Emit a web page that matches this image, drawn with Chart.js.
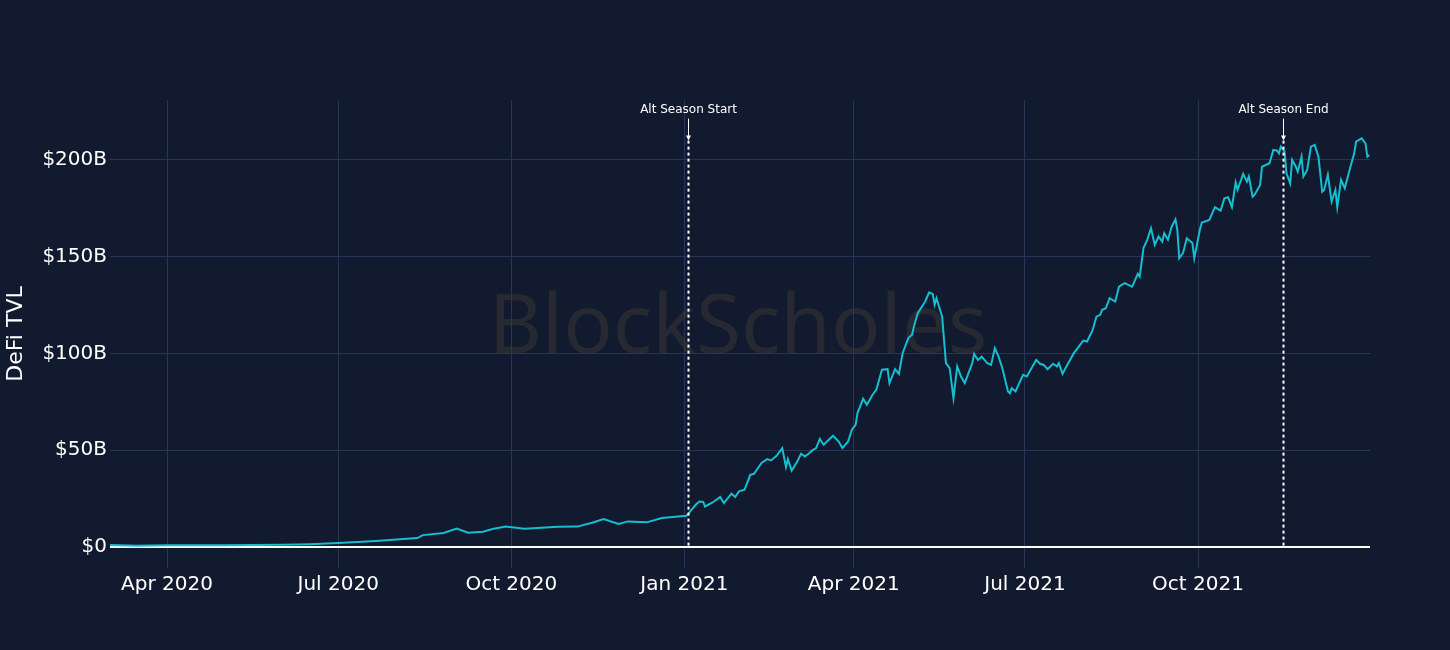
<!DOCTYPE html>
<html>
<head>
<meta charset="utf-8">
<script src="https://cdn.jsdelivr.net/npm/chart.js@4.4.1/dist/chart.umd.min.js"></script>
<style>
  html, body { margin: 0; padding: 0; background: #111a2e; }
  #wrap { width: 1450px; height: 650px; position: relative; }
</style>
</head>
<body>
<div id="wrap"><canvas id="tvl"></canvas></div>
<script>
// DeFi TVL, $B
let dates = [
    '2020-03-01','2020-03-16','2020-04-01','2020-05-01','2020-06-01','2020-06-16','2020-07-01','2020-07-21','2020-08-12','2020-08-15',
    '2020-08-26','2020-09-02','2020-09-08','2020-09-16','2020-09-21','2020-09-28','2020-10-08','2020-10-26','2020-11-05','2020-11-13',
    '2020-11-19','2020-11-27','2020-12-02','2020-12-12','2020-12-20','2021-01-02','2021-01-03','2021-01-07','2021-01-09','2021-01-11',
    '2021-01-12','2021-01-16','2021-01-20','2021-01-22','2021-01-26','2021-01-28','2021-01-30','2021-02-02','2021-02-05','2021-02-07',
    '2021-02-11','2021-02-14','2021-02-16','2021-02-19','2021-02-22','2021-02-24','2021-02-25','2021-02-27','2021-03-02','2021-03-04',
    '2021-03-06','2021-03-08','2021-03-10','2021-03-12','2021-03-14','2021-03-16','2021-03-21','2021-03-24','2021-03-26','2021-03-29',
    '2021-03-31','2021-04-02','2021-04-03','2021-04-06','2021-04-08','2021-04-11','2021-04-13','2021-04-16','2021-04-19','2021-04-20',
    '2021-04-23','2021-04-25','2021-04-27','2021-04-30','2021-05-02','2021-05-03','2021-05-05','2021-05-09','2021-05-11','2021-05-13',
    '2021-05-14','2021-05-15','2021-05-18','2021-05-20','2021-05-22','2021-05-24','2021-05-26','2021-05-28','2021-05-30','2021-06-03',
    '2021-06-04','2021-06-06','2021-06-08','2021-06-11','2021-06-13','2021-06-15','2021-06-17','2021-06-19','2021-06-22','2021-06-23',
    '2021-06-24','2021-06-26','2021-06-30','2021-07-02','2021-07-05','2021-07-07','2021-07-09','2021-07-11','2021-07-13','2021-07-16',
    '2021-07-18','2021-07-19','2021-07-21','2021-07-24','2021-07-27','2021-08-01','2021-08-03','2021-08-06','2021-08-08','2021-08-10',
    '2021-08-11','2021-08-13','2021-08-15','2021-08-18','2021-08-20','2021-08-23','2021-08-25','2021-08-27','2021-08-30','2021-08-31',
    '2021-09-02','2021-09-04','2021-09-06','2021-09-08','2021-09-10','2021-09-12','2021-09-13','2021-09-15','2021-09-17','2021-09-19',
    '2021-09-20','2021-09-21','2021-09-23','2021-09-25','2021-09-28','2021-09-29','2021-10-02','2021-10-03','2021-10-07','2021-10-10',
    '2021-10-13','2021-10-15','2021-10-17','2021-10-19','2021-10-21','2021-10-22','2021-10-25','2021-10-27','2021-10-28','2021-10-30',
    '2021-10-31','2021-11-03','2021-11-04','2021-11-06','2021-11-08','2021-11-10','2021-11-12','2021-11-13','2021-11-14','2021-11-16',
    '2021-11-17','2021-11-19','2021-11-20','2021-11-22','2021-11-23','2021-11-25','2021-11-26','2021-11-28','2021-11-30','2021-12-02',
    '2021-12-04','2021-12-06','2021-12-07','2021-12-09','2021-12-11','2021-12-13','2021-12-14','2021-12-16','2021-12-18','2021-12-21',
    '2021-12-23','2021-12-24','2021-12-27','2021-12-29','2021-12-30','2021-12-31'
];
let tvl = [
    0.9, 0.5, 0.7, 0.8, 1.0, 1.3, 1.9, 3.0, 4.5, 6.0,
    7.1, 9.4, 7.2, 7.8, 9.2, 10.4, 9.3, 10.3, 10.4, 12.4,
    14.3, 11.8, 13.1, 12.6, 14.8, 16.0, 17.0, 21.7, 23.4, 23.2,
    20.8, 22.9, 25.7, 22.6, 27.4, 25.7, 28.6, 29.5, 37.2, 37.7,
    43.3, 45.3, 44.6, 47.0, 51.0, 41.2, 45.3, 39.4, 44.1, 48.1,
    46.7, 48.1, 49.8, 51.0, 55.7, 52.7, 57.4, 54.4, 51.0, 54.4,
    60.5, 63.0, 69.1, 76.5, 73.4, 78.6, 81.1, 91.5, 91.8, 84.6,
    91.8, 89.4, 100.1, 107.9, 109.6, 113.9, 120.8, 126.8, 131.4, 130.7,
    125.1, 128.5, 119.0, 94.9, 92.3, 76.9, 93.2, 88.0, 84.6, 94.9,
    99.7, 96.6, 98.3, 94.9, 94.0, 102.7, 98.3, 92.3, 80.3, 79.4,
    82.0, 80.3, 88.9, 88.0, 93.2, 96.6, 94.6, 94.0, 91.8, 94.6,
    93.2, 94.9, 89.4, 94.9, 100.1, 106.6, 106.1, 112.1, 119.0, 119.9,
    122.5, 123.3, 128.5, 126.8, 134.5, 136.3, 135.4, 134.5, 141.1, 139.7,
    154.4, 158.7, 164.7, 156.1, 160.4, 157.8, 162.1, 158.7, 165.5, 169.3,
    163.8, 149.2, 151.8, 159.5, 157.0, 149.2, 164.0, 167.6, 169.0, 175.6,
    173.8, 180.2, 180.7, 175.6, 188.3, 184.5, 192.8, 188.8, 191.4, 181.0,
    181.9, 187.1, 196.5, 197.4, 198.3, 205.2, 204.8, 203.4, 206.9, 204.3,
    193.1, 187.9, 200.0, 196.5, 193.9, 201.7, 191.4, 194.8, 206.9, 207.8,
    201.7, 183.6, 184.5, 192.3, 178.5, 184.5, 175.6, 189.7, 185.4, 196.5,
    203.4, 209.5, 211.2, 208.6, 201.7, 202.5
];

let tickDates = ['2020-04-01', '2020-07-01', '2020-10-01', '2021-01-01', '2021-04-01', '2021-07-01', '2021-10-01'];
let tickLabels = ['Apr 2020', 'Jul 2020', 'Oct 2020', 'Jan 2021', 'Apr 2021', 'Jul 2021', 'Oct 2021'];
let yTicks = [0, 50, 100, 150, 200];

let markerDates = ['2021-01-03', '2021-11-15'];
let markerLabels = ['Alt Season Start', 'Alt Season End'];
let markerTop = 210; // $B level where the dotted line starts

const t0 = Date.parse('2020-01-01');
function dayOf(s) {
    return (Date.parse(s) - t0) / 86400000;
}

const gridColor = '#26365a';
const fontFam = '"DejaVu Sans", Verdana, sans-serif';

const watermark = {
    id: 'watermark',
    beforeDatasetsDraw(chart) {
        let ctx = chart.ctx, a = chart.chartArea;
        ctx.save();
        ctx.font = '82px "Noto Sans", sans-serif';
        ctx.fillStyle = 'rgba(60, 54, 54, 0.5)';
        ctx.textAlign = 'center';
        ctx.textBaseline = 'middle';
        ctx.fillText('BlockScholes', (a.left + a.right) / 2 - 2, 330);
        ctx.restore();
    }
};

const markers = {
    id: 'markers',
    afterDatasetsDraw(chart) {
        let ctx = chart.ctx,
            xs = chart.scales.x,
            ys = chart.scales.y;
        ctx.save();
        markerDates.forEach((d, i) => {
            let x = Math.round(xs.getPixelForValue(dayOf(d))) + 0.5,
                yTop = ys.getPixelForValue(markerTop),
                yBot = ys.getPixelForValue(0);
            // dotted line
            ctx.strokeStyle = '#ffffff';
            ctx.lineWidth = 2;
            ctx.setLineDash([3, 3]);
            ctx.beginPath();
            ctx.moveTo(x, yTop);
            ctx.lineTo(x, yBot);
            ctx.stroke();
            // arrow
            ctx.setLineDash([]);
            ctx.lineWidth = 1;
            ctx.beginPath();
            ctx.moveTo(x, yTop - 22);
            ctx.lineTo(x, yTop - 3);
            ctx.stroke();
            ctx.fillStyle = '#ffffff';
            ctx.beginPath();
            ctx.moveTo(x - 2.5, yTop - 5);
            ctx.lineTo(x + 2.5, yTop - 5);
            ctx.lineTo(x, yTop);
            ctx.closePath();
            ctx.fill();
            // label
            ctx.font = '12px ' + fontFam;
            ctx.textAlign = 'center';
            ctx.textBaseline = 'middle';
            ctx.fillText(markerLabels[i], x, yTop - 31);
        });
        ctx.restore();
    }
};

new Chart(document.getElementById('tvl'), {
    type: 'line',
    data: {
        datasets: [{
            label: 'DeFi TVL',
            data: dates.map((d, i) => ({ x: dayOf(d), y: tvl[i] })),
            borderColor: '#17becf',
            borderWidth: 2,
            pointRadius: 0,
            tension: 0,
            fill: false
        }]
    },
    options: {
        responsive: true,
        maintainAspectRatio: false,
        animation: false,
        layout: { padding: { top: 100, right: 80, left: 0, bottom: 0 } },
        plugins: {
            legend: { display: false },
            tooltip: { enabled: false }
        },
        scales: {
            x: {
                type: 'linear',
                min: 60.7,
                max: 730.4,
                afterBuildTicks: axis => {
                    axis.ticks = tickDates.map(d => ({ value: dayOf(d) }));
                },
                afterFit: axis => { axis.height = 82; },
                grid: { color: gridColor, lineWidth: 1, drawTicks: false },
                border: { display: false },
                ticks: {
                    color: '#ffffff',
                    padding: 5,
                    maxRotation: 0,
                    autoSkip: false,
                    font: { family: fontFam, size: 20 },
                    callback: function (v) {
                        let i = tickDates.findIndex(d => dayOf(d) === v);
                        return i >= 0 ? tickLabels[i] : '';
                    }
                }
            },
            y: {
                min: -11,
                max: 231,
                afterBuildTicks: axis => {
                    axis.ticks = yTicks.map(v => ({ value: v }));
                },
                afterFit: axis => { axis.width = 110; },
                grid: {
                    drawTicks: false,
                    color: c => c.tick && c.tick.value === 0 ? '#ffffff' : gridColor,
                    lineWidth: c => c.tick && c.tick.value === 0 ? 2 : 1
                },
                border: { display: false },
                title: {
                    display: true,
                    text: 'DeFi TVL',
                    color: '#ffffff',
                    padding: { top: 3, bottom: 0 },
                    font: { family: fontFam, size: 22 }
                },
                ticks: {
                    color: '#ffffff',
                    padding: 3,
                    font: { family: fontFam, size: 20 },
                    callback: v => v === 0 ? '$0' : '$' + v + 'B'
                }
            }
        }
    },
    plugins: [watermark, markers]
});
</script>
</body>
</html>
